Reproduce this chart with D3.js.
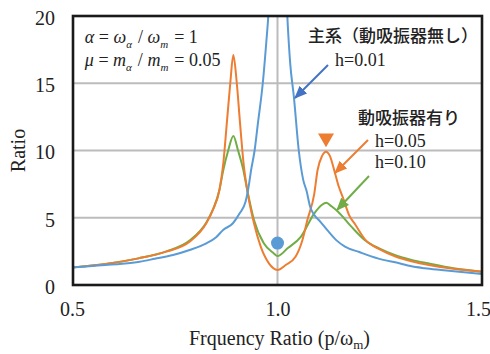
<!DOCTYPE html>
<html>
<head>
<meta charset="utf-8">
<script src="https://cdn.jsdelivr.net/npm/d3@7"></script>
<style>
  body { margin: 0; background: #fff; }
  svg text { font-family: "Times New Roman", Tinos, "Liberation Serif", "DejaVu Serif", serif; fill: #222; }
</style>
</head>
<body>
<div id="chart"></div>
<script>
// axis ticks
const xTicks = [0.5, 1.0, 1.5];
const yTicks = [0, 5, 10, 15, 20];

// 主系 (h=0.01), no absorber
const mainFreq  = [0.50, 0.54, 0.58, 0.62, 0.663, 0.70, 0.7445, 0.785, 0.826, 0.85, 0.867, 0.891, 0.9075, 0.922, 0.928, 0.9355, 0.944, 0.952, 0.964, 0.973, 0.9775, 1.00, 1.024, 1.031, 1.040, 1.052, 1.063, 1.071, 1.080, 1.090, 1.105, 1.124, 1.145, 1.165, 1.20, 1.245, 1.30, 1.325, 1.36, 1.40, 1.45, 1.50];
const mainRatio = [1.31, 1.40, 1.49, 1.58, 1.73, 1.95, 2.23, 2.60, 3.10, 3.55, 4.09, 4.59, 5.33, 6.2, 7.06, 8.55, 10.0, 12.0, 15.0, 18.2, 20.0, 45.0, 20.0, 16.5, 14.0, 10.0, 7.8, 7.0, 5.8, 5.2, 4.7, 4.0, 3.3, 2.85, 2.45, 1.98, 1.60, 1.41, 1.25, 1.12, 0.97, 0.82];

// 動吸振器有り h=0.05
const h005Freq  = [0.50, 0.58, 0.66, 0.728, 0.785, 0.826, 0.842, 0.858, 0.8675, 0.876, 0.8845, 0.892, 0.9005, 0.9085, 0.917, 0.926, 0.9425, 0.959, 0.979, 1.00, 1.02, 1.044, 1.061, 1.073, 1.090, 1.098, 1.109, 1.1186, 1.128, 1.139, 1.150, 1.160, 1.175, 1.19, 1.215, 1.25, 1.29, 1.33, 1.37, 1.43, 1.50];
const h005Ratio = [1.31, 1.56, 1.98, 2.48, 3.22, 4.59, 5.58, 7.06, 9.05, 12.0, 15.0, 17.1, 15.0, 12.0, 9.05, 7.06, 4.59, 2.85, 1.61, 1.12, 1.49, 2.10, 3.35, 4.83, 6.80, 8.55, 9.60, 9.91, 9.60, 8.50, 7.30, 6.50, 5.20, 4.50, 3.35, 2.65, 2.10, 1.75, 1.49, 1.20, 0.99];

// 動吸振器有り h=0.10
const h010Freq  = [0.50, 0.58, 0.66, 0.728, 0.785, 0.826, 0.842, 0.858, 0.8675, 0.8795, 0.892, 0.9035, 0.9165, 0.926, 0.9425, 0.9665, 0.9905, 1.00, 1.0245, 1.0575, 1.090, 1.108, 1.1195, 1.132, 1.148, 1.1805, 1.213, 1.25, 1.2865, 1.33, 1.368, 1.43, 1.50];
const h010Ratio = [1.31, 1.56, 1.98, 2.50, 3.30, 4.65, 5.60, 7.06, 8.55, 10.0, 11.08, 10.0, 8.55, 7.06, 4.83, 3.10, 2.36, 2.15, 2.73, 3.60, 5.33, 5.95, 6.12, 5.85, 5.45, 4.34, 3.35, 2.70, 2.23, 1.85, 1.61, 1.25, 0.99];

// markers
const dotPoint = [1.0, 3.12];
const triPoint = [1.1186, 10.93];

const width = 490, height = 354;
const margin = { top: 16, right: 8, bottom: 69, left: 73 };
const w = width - margin.left - margin.right;
const h = height - margin.top - margin.bottom;
const serif = '"Times New Roman", Tinos, "Liberation Serif", "DejaVu Serif", serif';

const svg = d3.select('#chart').append('svg')
  .attr('width', width).attr('height', height);

const x = d3.scaleLinear().domain([0.5, 1.5]).range([0, w]);
const y = d3.scaleLinear().domain([0, 20]).range([h, 0]);

const defs = svg.append('defs');
defs.append('clipPath').attr('id', 'plotclip')
  .append('rect').attr('width', w).attr('height', h);

function arrowMarker(id, color) {
  defs.append('marker')
    .attr('id', id)
    .attr('viewBox', '0 0 12 10')
    .attr('refX', 11).attr('refY', 5)
    .attr('markerWidth', 13).attr('markerHeight', 11)
    .attr('markerUnits', 'userSpaceOnUse')
    .attr('orient', 'auto')
    .append('path').attr('d', 'M0,0 L12,5 L0,10 Z').attr('fill', color);
}
arrowMarker('arBlue', '#4472c4');
arrowMarker('arOrange', '#ed7d31');
arrowMarker('arGreen', '#70ad47');

const g = svg.append('g')
  .attr('transform', `translate(${margin.left},${margin.top})`);

// grid
g.append('g').selectAll('line.hg')
  .data(yTicks.filter(d => d > 0 && d < 20))
  .enter().append('line')
  .attr('x1', 0).attr('x2', w)
  .attr('y1', d => y(d)).attr('y2', d => y(d))
  .attr('stroke', '#bcbcbc').attr('stroke-width', 2);
g.append('g').selectAll('line.vg')
  .data(xTicks.filter(d => d > 0.5 && d < 1.5))
  .enter().append('line')
  .attr('x1', d => x(d)).attr('x2', d => x(d))
  .attr('y1', 0).attr('y2', h)
  .attr('stroke', '#bcbcbc').attr('stroke-width', 2);

// curves
const series = [
  { f: h010Freq, r: h010Ratio, color: '#70ad47' },
  { f: h005Freq, r: h005Ratio, color: '#ed7d31' },
  { f: mainFreq, r: mainRatio, color: '#5b9bd5' }
];
const line = d3.line()
  .x(d => x(d[0])).y(d => y(d[1]))
  .curve(d3.curveMonotoneX);
const plot = g.append('g').attr('clip-path', 'url(#plotclip)');
series.forEach(s => {
  plot.append('path')
    .datum(d3.zip(s.f, s.r))
    .attr('fill', 'none')
    .attr('stroke', s.color)
    .attr('stroke-width', 2)
    .attr('stroke-linejoin', 'round')
    .attr('d', line);
});

// markers
g.append('circle')
  .attr('cx', x(dotPoint[0])).attr('cy', y(dotPoint[1]))
  .attr('r', 6.5).attr('fill', '#5b9bd5');
g.append('path')
  .attr('d', d3.symbol(d3.symbolTriangle, 110)())
  .attr('transform', `translate(${x(triPoint[0])},${y(triPoint[1])}) rotate(180)`)
  .attr('fill', '#ed7d31');

// frame
g.append('rect')
  .attr('width', w).attr('height', h)
  .attr('fill', 'none').attr('stroke', '#1a1a1a').attr('stroke-width', 2.6);

// axes
const xAxis = g.append('g')
  .attr('transform', `translate(0,${h})`)
  .call(d3.axisBottom(x).tickValues(xTicks).tickFormat(d3.format('.1f')).tickSize(0).tickPadding(17));
const yAxis = g.append('g')
  .call(d3.axisLeft(y).tickValues(yTicks).tickSize(0).tickPadding(18));
[xAxis, yAxis].forEach(a => {
  a.attr('font-family', null);
  a.select('.domain').remove();
  a.selectAll('text')
    .style('font-family', serif)
    .style('font-size', '20px').attr('fill', '#222');
});
yAxis.selectAll('text').attr('dy', '0.42em');
// keep the end labels inside the window
xAxis.selectAll('text').attr('dx', d => d === 1.5 ? -4 : (d === 0.5 ? -1 : 0));

// axis titles
svg.append('text')
  .attr('transform', `translate(25,${margin.top + h / 2}) rotate(-90)`)
  .attr('text-anchor', 'middle')
  .style('font-family', serif)
  .style('font-size', '20px')
  .text('Ratio');
const xt = svg.append('text')
  .attr('x', margin.left + w / 2 + 2).attr('y', 345)
  .attr('text-anchor', 'middle')
  .style('font-family', serif)
  .style('font-size', '20px');
xt.append('tspan').text('Frquency Ratio (p/ω');
xt.append('tspan').attr('dy', 4).style('font-size', '13px').text('m');
xt.append('tspan').attr('dy', -4).text(')');

// parameter note (top-left)
function subText(px, py, parts) {
  const t = g.append('text')
    .attr('x', x(px)).attr('y', y(py))
    .style('font-family', serif)
    .style('font-size', '18px');
  parts.forEach(p => {
    if (p.sub) {
      t.append('tspan').attr('dy', 5).style('font-size', '11px').style('font-style', 'italic').text(p.sub);
      t.append('tspan').attr('dy', -5).text('\u200a');
    } else if (p.n) {
      t.append('tspan').text(p.n);
    } else {
      t.append('tspan').style('font-style', 'italic').text(p.t);
    }
  });
  return t;
}
subText(0.529, 17.97, [{ t: 'α' }, { n: ' = ' }, { t: 'ω' }, { sub: 'α' }, { n: ' / ' }, { t: 'ω' }, { sub: 'm' }, { n: ' = 1' }]);
subText(0.529, 16.3, [{ t: 'μ' }, { n: ' = ' }, { t: 'm' }, { sub: 'α' }, { n: ' / ' }, { t: 'm' }, { sub: 'm' }, { n: ' = 0.05' }]);

// series notes
const jp = '"Noto Sans CJK JP", sans-serif';
g.append('text').attr('x', x(1.0746)).attr('y', y(18.05))
  .style('font-family', jp).style('font-size', '17px').style('font-weight', 500)
  .text('主系（動吸振器無し）');
g.append('text').attr('x', x(1.1406)).attr('y', y(16.25))
  .style('font-family', serif).style('font-size', '18px').text('h=0.01');
g.append('text').attr('x', x(1.1968)).attr('y', y(11.95))
  .style('font-family', jp).style('font-size', '17px').style('font-weight', 500)
  .text('動吸振器有り');
g.append('text').attr('x', x(1.2384)).attr('y', y(10.24))
  .style('font-family', serif).style('font-size', '18px').text('h=0.05');
g.append('text').attr('x', x(1.2384)).attr('y', y(8.68))
  .style('font-family', serif).style('font-size', '18px').text('h=0.10');

// arrows
const arrows = [
  { from: [1.1235, 16.36], to: [1.0428, 13.9], color: '#4472c4', m: 'arBlue' },
  { from: [1.2213, 10.78], to: [1.1406, 8.33], color: '#ed7d31', m: 'arOrange' },
  { from: [1.2237, 8.1], to: [1.1455, 5.58], color: '#70ad47', m: 'arGreen' }
];
arrows.forEach(a => {
  g.append('line')
    .attr('x1', x(a.from[0])).attr('y1', y(a.from[1]))
    .attr('x2', x(a.to[0])).attr('y2', y(a.to[1]))
    .attr('stroke', a.color).attr('stroke-width', 2)
    .attr('marker-end', `url(#${a.m})`);
});
</script>
</body>
</html>
